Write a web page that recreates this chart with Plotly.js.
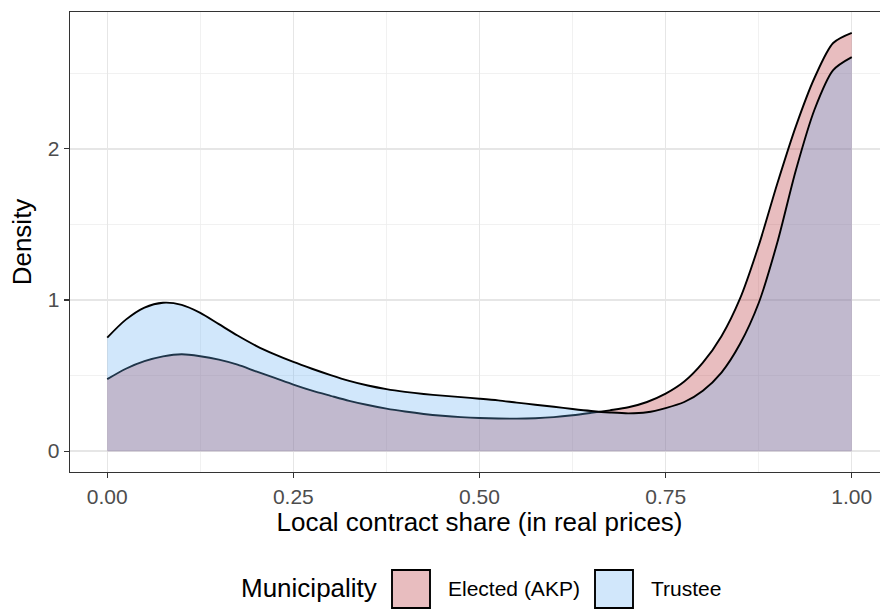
<!DOCTYPE html>
<html><head><meta charset="utf-8">
<script src="https://cdn.plot.ly/plotly-3.0.1.min.js"></script>
<style>html,body{margin:0;padding:0;overflow:hidden;background:#fff;width:880px;height:614px}#chart{width:900px;height:614px}</style>
</head><body><div id="chart"></div>
<script>
// x grid of the density estimates (local contract share)
const shareGrid = [0,0.025,0.05,0.075,0.1,0.125,0.15,0.175,0.2,0.225,0.25,0.275,0.3,0.325,0.35,0.375,0.4,0.425,0.45,0.475,0.5,0.525,0.55,0.575,0.6,0.625,0.65,0.675,0.7,0.725,0.75,0.775,0.8,0.825,0.85,0.875,0.9,0.925,0.95,0.975,1.0];
// density of Elected (AKP) municipalities
const electedDensity = [0.476,0.545,0.595,0.627,0.641,0.628,0.605,0.572,0.527,0.484,0.440,0.400,0.366,0.333,0.305,0.281,0.262,0.246,0.234,0.225,0.219,0.216,0.215,0.218,0.225,0.237,0.253,0.270,0.290,0.325,0.380,0.460,0.585,0.760,1.010,1.360,1.770,2.150,2.470,2.700,2.767];
// density of Trustee municipalities
const trusteeDensity = [0.751,0.870,0.950,0.982,0.968,0.915,0.840,0.765,0.697,0.640,0.590,0.545,0.503,0.465,0.434,0.410,0.392,0.378,0.367,0.357,0.347,0.336,0.321,0.307,0.294,0.279,0.266,0.256,0.250,0.257,0.285,0.325,0.400,0.520,0.710,0.980,1.380,1.860,2.260,2.520,2.606];
const groupNames = ["Elected (AKP)", "Trustee"];
const legendTitle = "Municipality";
const xTickVals = [0,0.25,0.5,0.75,1];
const xTickText = ["0.00","0.25","0.50","0.75","1.00"];
const yTickVals = [0,1,2];
const yTickText = ["0","1","2"];

const FONT = "Liberation Sans, Arial, Helvetica, sans-serif";
const fills = ["rgba(178,35,42,0.3)", "rgba(102,175,242,0.3)"];

const traces = [electedDensity, trusteeDensity].map((d, i) => ({
  type: "scatter", mode: "lines", x: shareGrid, y: d, name: groupNames[i],
  fill: "tozeroy", fillcolor: fills[i],
  line: {color: "#000000", width: 1.9, shape: "spline", smoothing: 0.8},
  hoverinfo: "x+y+name"
}));

// plot area in pixels: x 70..889, y 12..472
const L = 70, R = 889, T = 12, B = 472;
const px = v => (v - L) / (R - L);
const py = v => (B - v) / (B - T);

const shapes = [], annotations = [];
annotations.push({xref: "paper", yref: "paper", x: px(239), y: py(588), xanchor: "left", yanchor: "middle",
  text: legendTitle, showarrow: false, font: {family: FONT, size: 26, color: "#000"}});
const keyX = [392, 595], labX = [446, 649];
groupNames.forEach((g, i) => {
  shapes.push({type: "rect", xref: "paper", yref: "paper", x0: px(keyX[i]), x1: px(keyX[i] + 38),
    y0: py(570), y1: py(608), fillcolor: fills[i], line: {color: "#000", width: 1.9}});
  annotations.push({xref: "paper", yref: "paper", x: px(labX[i]), y: py(588), xanchor: "left", yanchor: "middle",
    text: g, showarrow: false, font: {family: FONT, size: 21, color: "#000"}});
});

const layout = {
  width: 900, height: 614,
  margin: {l: L, r: 900 - R, t: T, b: 614 - B},
  paper_bgcolor: "#fff", plot_bgcolor: "#fff",
  showlegend: false,
  font: {family: FONT},
  xaxis: {
    range: [-0.05, 1.05], tickvals: xTickVals, ticktext: xTickText,
    ticks: "outside", ticklen: 5, tickwidth: 1.2, tickcolor: "#333333",
    tickfont: {family: FONT, size: 21, color: "#4D4D4D"},
    showgrid: true, gridcolor: "#E6E6E6", gridwidth: 1.4,
    minor: {dtick: 0.125, tick0: 0, showgrid: true, gridcolor: "#EDEDED", gridwidth: 0.8, ticks: ""},
    zeroline: false, showline: true, mirror: true, linecolor: "#333333", linewidth: 1.3,
    title: {text: "Local contract share (in real prices)", font: {family: FONT, size: 26, color: "#000"}, standoff: 5},
    automargin: false
  },
  yaxis: {
    range: [-0.138, 2.905], tickvals: yTickVals, ticktext: yTickText,
    ticks: "outside", ticklen: 5, tickwidth: 1.2, tickcolor: "#333333",
    tickfont: {family: FONT, size: 21, color: "#4D4D4D"},
    showgrid: true, gridcolor: "#E6E6E6", gridwidth: 1.4,
    minor: {dtick: 0.5, tick0: 0, showgrid: true, gridcolor: "#EDEDED", gridwidth: 0.8, ticks: ""},
    zeroline: false, showline: true, mirror: true, linecolor: "#333333", linewidth: 1.3,
    title: {text: "Density", font: {family: FONT, size: 26, color: "#000"}, standoff: 8},
    automargin: false
  },
  shapes: shapes, annotations: annotations
};
Plotly.newPlot("chart", traces, layout, {displayModeBar: false, staticPlot: true});
</script></body></html>
